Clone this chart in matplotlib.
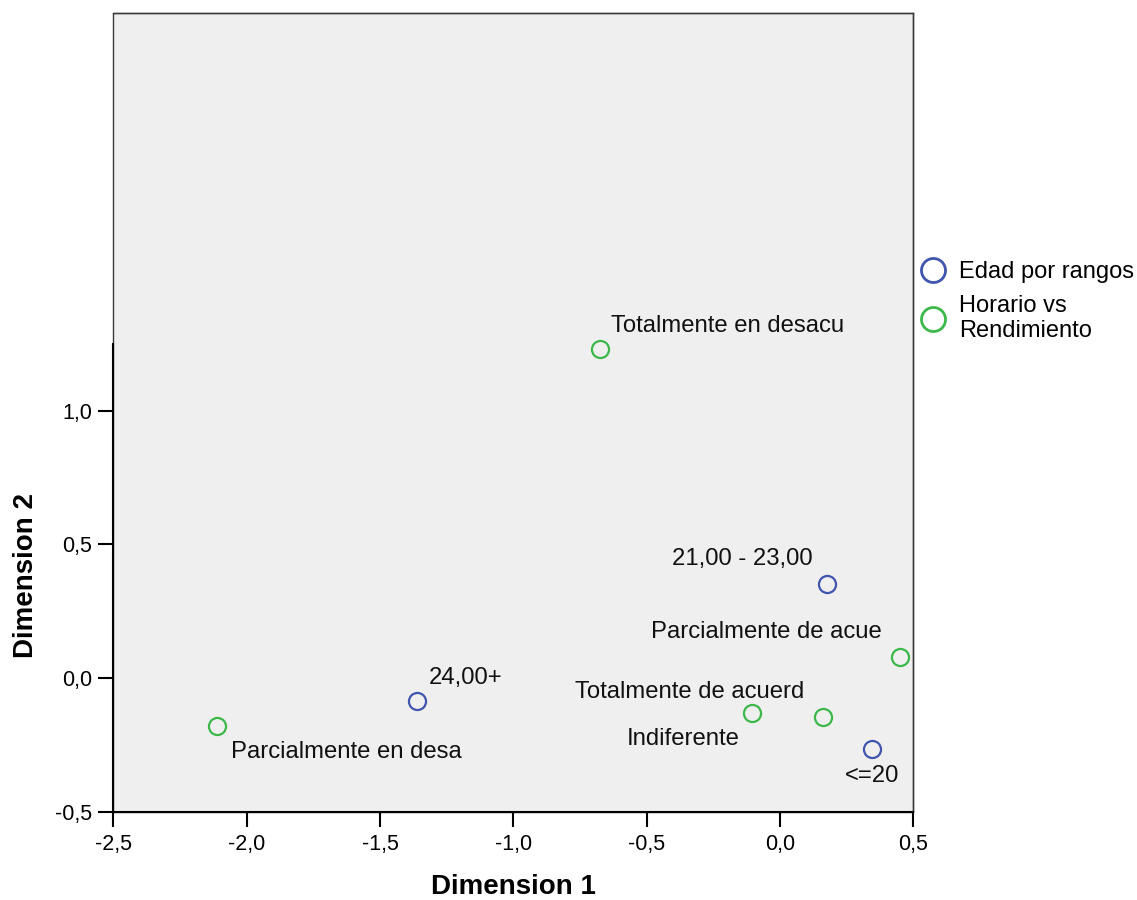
import matplotlib.pyplot as plt
from matplotlib.lines import Line2D

plt.rcParams['font.family'] = ['Liberation Sans', 'DejaVu Sans']

# row points: Edad por rangos
edad_labels = ["24,00+", "21,00 - 23,00", "<=20"]
edad_x = [-1.360, 0.174, 0.346]
edad_y = [-0.086, 0.352, -0.266]

# column points: Horario vs Rendimiento
horario_labels = ["Totalmente en desacu", "Parcialmente en desa", "Indiferente",
                  "Totalmente de acuerd", "Parcialmente de acue"]
horario_x = [-0.674, -2.110, -0.104, 0.162, 0.451]
horario_y = [1.232, -0.180, -0.131, -0.146, 0.080]

xticks = [-2.5, -2.0, -1.5, -1.0, -0.5, 0.0, 0.5]
yticks = [-0.5, 0.0, 0.5, 1.0]

BLUE = "#4055ad"
GREEN = "#3cb84a"

# label placement (offset in points, horizontal alignment)
label_pos = {
    "Totalmente en desacu": ((7.9, 16.6), "left"),
    "Parcialmente en desa": ((10.1, -18.7), "left"),
    "Indiferente": ((-9.4, -18.7), "right"),
    "Totalmente de acuerd": ((-13.7, 18.0), "right"),
    "Parcialmente de acue": ((-13.7, 18.0), "right"),
    "24,00+": ((7.9, 16.6), "left"),
    "21,00 - 23,00": ((-10.1, 18.0), "right"),
    "<=20": ((0.0, -19.4), "center"),
}

fig = plt.figure(figsize=(11.37, 9), dpi=100)
ax = fig.add_axes([0.0997, 0.0981, 0.7037, 0.8878])
ax.set_facecolor("#efefef")
ax.patch.set_edgecolor("#3a3a3a")
ax.patch.set_linewidth(1.0)

mk = dict(marker="o", linestyle="none", markersize=12.3, markeredgewidth=1.6,
          markerfacecolor="none", clip_on=False)
ax.plot(edad_x, edad_y, markeredgecolor=BLUE, **mk)
ax.plot(horario_x, horario_y, markeredgecolor=GREEN, **mk)

for labels, xs, ys in [(edad_labels, edad_x, edad_y), (horario_labels, horario_x, horario_y)]:
    for lab, x, y in zip(labels, xs, ys):
        off, ha = label_pos[lab]
        ax.annotate(lab, (x, y), xytext=off, textcoords="offset points",
                    ha=ha, va="center", fontsize=17.2, color="#111111")

ax.set_xlim(-2.5, 0.5)
ax.set_ylim(-0.5, 2.49)
ax.set_xticks(xticks, [f"{v:.1f}".replace(".", ",") for v in xticks])
ax.set_yticks(yticks, [f"{v:.1f}".replace(".", ",") for v in yticks])
ax.tick_params(axis="both", length=10.8, width=1.5, labelsize=15.5, color="black")
ax.tick_params(axis="x", pad=5.5)
ax.tick_params(axis="y", pad=4.5)

for side in ["top", "right"]:
    ax.spines[side].set_color("#3a3a3a")
    ax.spines[side].set_linewidth(1.0)
for side in ["left", "bottom"]:
    ax.spines[side].set_color("black")
    ax.spines[side].set_linewidth(1.5)
ax.spines["left"].set_bounds(-0.5, 1.25)

ax.set_xlabel("Dimension 1", fontsize=20, fontweight="bold")
ax.set_ylabel("Dimension 2", fontsize=20, fontweight="bold")
ax.xaxis.label.set_va("center")
ax.yaxis.label.set_va("center")
ax.xaxis.set_label_coords(0.5, -0.0942)
ax.yaxis.set_label_coords(-0.109, 0.295)

handles = [
    Line2D([], [], marker="o", linestyle="none", markersize=17.3, markeredgewidth=2,
           markerfacecolor="none", markeredgecolor=BLUE),
    Line2D([], [], marker="o", linestyle="none", markersize=17.3, markeredgewidth=2,
           markerfacecolor="none", markeredgecolor=GREEN),
]
leg = ax.legend(handles, ["Edad por rangos", "Horario vs\nRendimiento"],
                loc="upper left", bbox_to_anchor=(0.809, 0.71),
                bbox_transform=fig.transFigure, frameon=False, fontsize=17,
                borderpad=0, borderaxespad=0, handlelength=1.15,
                handletextpad=0.5, labelspacing=0.5)
for t in leg.get_texts():
    t.set_linespacing(1.18)

fig.savefig("out.png", dpi=100)
